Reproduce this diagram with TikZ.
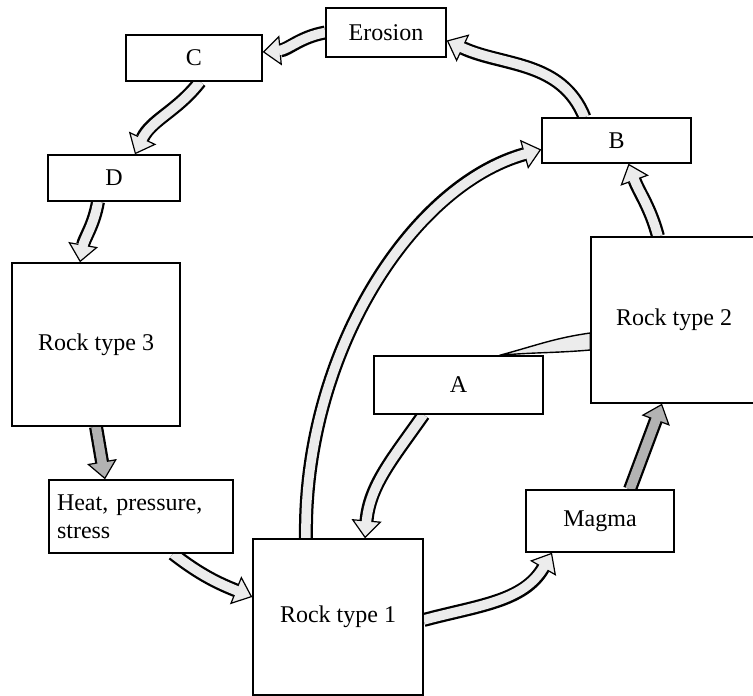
\documentclass[tikz,border=0pt]{standalone}
\usepackage{fontspec}
\setmainfont{Liberation Serif}
\usetikzlibrary{arrows.meta}
\pgfdeclarelayer{bg}
\pgfsetlayers{bg,main}
\tikzset{
  box/.style={draw, line width=1.4pt, fill=white, inner sep=0pt,
    font=\fontsize{24}{28}\selectfont},
  blk/.style={line width=14pt, draw=black,
    -{Triangle[length=18pt,width=30pt,line width=1.2pt,fill=#1]},
    postaction={draw=#1, line width=9.5pt, shorten >=16pt, -}},
  blk/.default={gray!15},
  wedge/.style={draw=black, line width=1.4pt, fill=gray!15, line join=round},
}
\begin{document}
\begin{tikzpicture}[x=1pt,y=1pt]
\useasboundingbox (0,0) rectangle (753,696);
\node[box, minimum width=120pt, minimum height=49pt] (Erosion) at (386,663.5) {Erosion};
\node[box, minimum width=136pt, minimum height=46pt] (C) at (194,638) {C};
\node[box, minimum width=132pt, minimum height=46pt] (D) at (114,518) {D};
\node[box, minimum width=168pt, minimum height=163pt] (R3) at (96,351.5) {Rock type 3};
\node[box, minimum width=184pt, minimum height=73pt, text width=168pt, align=left] (Heat) at (141,179.5) {Heat, pressure,\\stress};
\node[box, minimum width=170pt, minimum height=156pt] (R1) at (338,79) {Rock type 1};
\node[box, minimum width=148pt, minimum height=62pt] (Magma) at (600,175) {Magma};
\node[box, minimum width=169pt, minimum height=58pt] (A) at (458.5,311) {A};
\node[box, minimum width=166pt, minimum height=166pt] (R2) at (674,376) {Rock type 2};
\node[box, minimum width=149pt, minimum height=45pt] (B) at (616.5,555.5) {B};
\begin{pgfonlayer}{bg}
\draw[blk] (Erosion.west) to[out=190,in=5] ([yshift=6pt]C.east);
\draw[blk] ([xshift=-32pt]B.north) to[out=112,in=-25] ([yshift=-8pt]Erosion.east);
\draw[blk] ([xshift=6pt]C.south) to[out=-128,in=65] ([xshift=21pt]D.north);
\draw[blk] ([xshift=-16pt]D.south) to[out=-100,in=80] ([xshift=-16pt]R3.north);
\draw[blk=gray!60] (R3.south) -- ([xshift=-36pt]Heat.north);
\draw[blk] ([xshift=32pt]Heat.south) to[out=-38,in=158] ([yshift=20pt]R1.west);
\draw[blk] ([yshift=-3pt]R1.east) to[out=15,in=-120] ([xshift=-48pt]Magma.south);
\draw[blk=gray!60] ([xshift=30pt]Magma.north) -- ([xshift=-12pt]R2.south);
\draw[blk] ([xshift=-16pt]R2.north) to[out=105,in=-70] ([xshift=12pt]B.south);
\draw[blk] ([xshift=-32pt]R1.north) .. controls (303,340) and (410,510) .. ([yshift=-9pt]B.west);
\draw[blk] ([xshift=-35pt]A.south) to[out=-125,in=85] ([xshift=27pt]R1.north);
\end{pgfonlayer}
\draw[wedge] ([yshift=-13pt]R2.west) to[out=188,in=15] ([xshift=-44pt]A.north east)
  to[out=5,in=185] ([yshift=-30pt]R2.west) -- cycle;
\end{tikzpicture}
\end{document}
